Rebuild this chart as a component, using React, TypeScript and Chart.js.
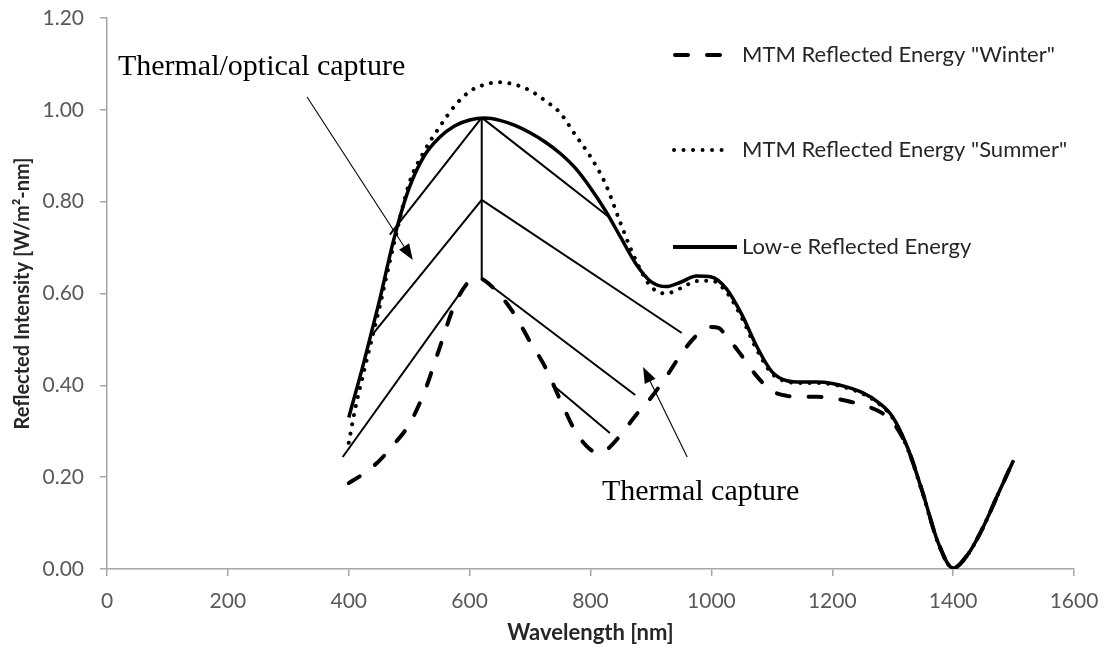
import React, { useEffect, useRef } from 'react';
import { Chart, registerables } from 'chart.js';

Chart.register(...registerables);

// ---- Data ----
const wavelengthsLowE = [400, 425, 450, 475, 500, 525, 550, 575, 600, 625, 650, 675, 700, 725, 750, 775, 800, 825, 850, 875, 900, 925, 950, 975, 1000, 1025, 1050, 1075, 1100, 1125, 1150, 1175, 1200, 1225, 1250, 1275, 1300, 1325, 1350, 1375, 1400, 1425, 1450, 1475, 1500];
const lowE = [0.33, 0.45, 0.58, 0.72, 0.83, 0.9, 0.94, 0.965, 0.978, 0.982, 0.977, 0.966, 0.95, 0.93, 0.905, 0.873, 0.83, 0.78, 0.722, 0.665, 0.626, 0.615, 0.625, 0.638, 0.636, 0.61, 0.555, 0.485, 0.43, 0.41, 0.407, 0.407, 0.404, 0.396, 0.384, 0.364, 0.331, 0.263, 0.165, 0.058, 0.002, 0.033, 0.092, 0.165, 0.237];

const wavelengthsSummer = [400, 410, 425, 450, 475, 500, 525, 550, 575, 600, 625, 650, 675, 700, 725, 750, 775, 800, 825, 850, 875, 900, 925, 950, 975, 1000, 1025, 1050, 1075, 1100, 1125, 1150, 1175, 1200, 1225, 1250, 1275, 1300, 1325, 1350, 1375, 1400, 1425, 1450, 1475, 1500];
const summer = [0.275, 0.345, 0.43, 0.565, 0.71, 0.84, 0.91, 0.962, 1.008, 1.04, 1.055, 1.06, 1.055, 1.042, 1.02, 0.993, 0.945, 0.898, 0.838, 0.752, 0.672, 0.615, 0.6, 0.612, 0.627, 0.628, 0.603, 0.548, 0.478, 0.426, 0.408, 0.405, 0.405, 0.402, 0.394, 0.382, 0.362, 0.329, 0.261, 0.163, 0.057, 0.002, 0.033, 0.092, 0.165];

const wavelengthsWinter = [400, 425, 450, 475, 500, 525, 550, 575, 600, 612, 625, 650, 675, 700, 725, 750, 775, 800, 815, 825, 850, 875, 900, 925, 950, 975, 1000, 1012, 1025, 1050, 1075, 1100, 1125, 1150, 1175, 1200, 1225, 1250, 1275, 1300, 1325, 1350, 1375, 1400, 1425, 1450, 1475, 1500];
const winter = [0.187, 0.208, 0.235, 0.272, 0.315, 0.385, 0.48, 0.575, 0.628, 0.635, 0.628, 0.597, 0.553, 0.495, 0.44, 0.368, 0.3, 0.26, 0.253, 0.258, 0.292, 0.335, 0.373, 0.418, 0.468, 0.508, 0.527, 0.525, 0.507, 0.465, 0.42, 0.388, 0.377, 0.375, 0.375, 0.372, 0.366, 0.357, 0.345, 0.32, 0.262, 0.165, 0.058, 0.002, 0.033, 0.092, 0.165, 0.237];

const seriesLabels = ['MTM Reflected Energy "Winter"', 'MTM Reflected Energy "Summer"', 'Low-e Reflected Energy'];

const xAxisMin = 0;
const xAxisMax = 1600;
const xAxisStep = 200;
const yAxisMin = 0;
const yAxisMax = 1.2;
const yAxisStep = 0.2;
const xTitle = 'Wavelength [nm]';
const yTitle = 'Reflected Intensity [W/m\u00B2-nm]';

// annotation segments in data units: [x1, y1, x2, y2]
const guideLines = [
  [620, 0.983, 620, 0.632],
  [620, 0.983, 468, 0.728],
  [620, 0.983, 832, 0.765],
  [620, 0.804, 440, 0.512],
  [620, 0.804, 951, 0.514],
  [620, 0.632, 874, 0.379],
  [390, 0.244, 592, 0.615],
  [738, 0.4, 832, 0.296],
];
// arrows: [fromX, fromY, tipX, tipY]
const arrows = [
  [331, 1.028, 506, 0.673],
  [960, 0.244, 887, 0.44],
];
// text notes: [label, x, y(baseline)]
const notes: [string, number, number][] = [
  ['Thermal/optical capture', 18, 1.076],
  ['Thermal capture', 819, 0.15],
];

const toPoints = (xs: number[], ys: number[]) => xs.map((x, i) => ({ x, y: ys[i] }));

export default function App() {
  const canvasRef = useRef<HTMLCanvasElement | null>(null);

  useEffect(() => {
    const canvas = canvasRef.current;
    if (!canvas) return;

    const overlay = {
      id: 'overlay',
      afterDatasetsDraw(chart: any) {
        const ctx = chart.ctx as CanvasRenderingContext2D;
        const xs = chart.scales.x;
        const ys = chart.scales.y;
        const px = (v: number) => xs.getPixelForValue(v);
        const py = (v: number) => ys.getPixelForValue(v);
        ctx.save();
        // guide lines
        ctx.strokeStyle = '#000';
        ctx.lineWidth = 2;
        ctx.lineCap = 'butt';
        ctx.setLineDash([]);
        guideLines.forEach(([x1, y1, x2, y2]) => {
          ctx.beginPath();
          ctx.moveTo(px(x1), py(y1));
          ctx.lineTo(px(x2), py(y2));
          ctx.stroke();
        });
        // arrows
        arrows.forEach(([x1, y1, x2, y2]) => {
          const ax = px(x1), ay = py(y1), bx = px(x2), by = py(y2);
          const ang = Math.atan2(by - ay, bx - ax);
          const len = 16, hw = 6;
          const baseX = bx - len * Math.cos(ang);
          const baseY = by - len * Math.sin(ang);
          ctx.lineWidth = 1.1;
          ctx.beginPath();
          ctx.moveTo(ax, ay);
          ctx.lineTo(baseX, baseY);
          ctx.stroke();
          ctx.beginPath();
          ctx.moveTo(bx, by);
          ctx.lineTo(baseX + hw * Math.sin(ang), baseY - hw * Math.cos(ang));
          ctx.lineTo(baseX - hw * Math.sin(ang), baseY + hw * Math.cos(ang));
          ctx.closePath();
          ctx.fillStyle = '#000';
          ctx.fill();
        });
        // notes
        ctx.fillStyle = '#000';
        ctx.font = '30px "Liberation Serif", "Times New Roman", serif';
        ctx.textAlign = 'left';
        ctx.textBaseline = 'alphabetic';
        notes.forEach(([t, x, y]) => ctx.fillText(t, px(x), py(y)));

        // legend
        const lx0 = 673;
        const textX = 742;
        const rows = [55, 150, 247];
        ctx.strokeStyle = '#000';
        ctx.lineWidth = 4;
        // winter dashed
        ctx.lineCap = 'round';
        ctx.setLineDash([13, 19]);
        ctx.beginPath();
        ctx.moveTo(lx0 + 2, rows[0]);
        ctx.lineTo(lx0 + 48, rows[0]);
        ctx.stroke();
        // summer dotted
        ctx.setLineDash([0.01, 9.5]);
        ctx.beginPath();
        ctx.moveTo(lx0 + 1, rows[1]);
        ctx.lineTo(lx0 + 58, rows[1]);
        ctx.stroke();
        // solid
        ctx.setLineDash([]);
        ctx.lineCap = 'butt';
        ctx.beginPath();
        ctx.moveTo(lx0, rows[2]);
        ctx.lineTo(lx0 + 64, rows[2]);
        ctx.stroke();
        ctx.fillStyle = '#262626';
        ctx.font = '22px Lato, "Open Sans", sans-serif';
        ctx.textBaseline = 'middle';
        seriesLabels.forEach((t, i) => ctx.fillText(t, textX, rows[i]));
        ctx.restore();
      },
    };

    const chart = new Chart(canvas, {
      type: 'line',
      data: {
        datasets: [
          {
            label: seriesLabels[0],
            data: toPoints(wavelengthsWinter, winter),
            borderColor: '#000',
            borderWidth: 4,
            borderDash: [13, 19],
            borderCapStyle: 'round',
            pointRadius: 0,
            cubicInterpolationMode: 'monotone',
            fill: false,
          },
          {
            label: seriesLabels[1],
            data: toPoints(wavelengthsSummer, summer),
            borderColor: '#000',
            borderWidth: 4,
            borderDash: [0.01, 9.3],
            borderCapStyle: 'round',
            pointRadius: 0,
            cubicInterpolationMode: 'monotone',
            fill: false,
          },
          {
            label: seriesLabels[2],
            data: toPoints(wavelengthsLowE, lowE),
            borderColor: '#000',
            borderWidth: 3.5,
            pointRadius: 0,
            cubicInterpolationMode: 'monotone',
            fill: false,
          },
        ],
      },
      plugins: [overlay],
      options: {
        responsive: false,
        animation: false,
        devicePixelRatio: 1,
        layout: { padding: { top: 18, right: 30, left: 0, bottom: 0 } },
        plugins: {
          legend: { display: false },
          tooltip: { enabled: false },
        },
        scales: {
          x: {
            type: 'linear',
            min: xAxisMin,
            max: xAxisMax,
            afterFit: (s: any) => {
              s.height = 83;
              s.paddingLeft = 0;
              s.paddingRight = 0;
              s.paddingTop = 0;
              s.paddingBottom = 0;
            },
            ticks: {
              stepSize: xAxisStep,
              color: '#595959',
              font: { family: 'Lato, "Open Sans", sans-serif', size: 21 },
              padding: 13,
              maxRotation: 0,
              callback: (v: any) => String(v),
            },
            grid: {
              display: true,
              drawOnChartArea: false,
              drawTicks: true,
              tickLength: 7,
              color: '#a6a6a6',
              lineWidth: 1.5,
            },
            border: { display: true, color: '#a6a6a6', width: 1.5 },
            title: {
              display: true,
              text: xTitle,
              color: '#262626',
              font: { family: 'Lato, "Open Sans", sans-serif', size: 22, weight: 'bold' },
              padding: { top: 0, bottom: 6 },
            },
          },
          y: {
            type: 'linear',
            min: yAxisMin,
            max: yAxisMax,
            afterFit: (s: any) => {
              s.width = 107;
              s.paddingLeft = 0;
              s.paddingRight = 0;
              s.paddingTop = 0;
              s.paddingBottom = 0;
            },
            ticks: {
              stepSize: yAxisStep,
              color: '#595959',
              font: { family: 'Lato, "Open Sans", sans-serif', size: 21 },
              padding: 16,
              callback: (v: any) => Number(v).toFixed(2),
            },
            grid: {
              display: true,
              drawOnChartArea: false,
              drawTicks: true,
              tickLength: 7,
              color: '#a6a6a6',
              lineWidth: 1.5,
            },
            border: { display: true, color: '#a6a6a6', width: 1.5 },
            title: {
              display: true,
              text: yTitle,
              color: '#262626',
              font: { family: 'Lato, "Open Sans", sans-serif', size: 20, weight: 'bold' },
              padding: { top: 11, bottom: 0 },
            },
          },
        },
      } as any,
    });

    return () => chart.destroy();
  }, []);

  return (
    <div style={{ position: 'fixed', left: 0, top: 0, width: 1104, height: 652, background: '#fff' }}>
      <canvas ref={canvasRef} width={1104} height={652} style={{ display: 'block', width: 1104, height: 652 }} />
    </div>
  );
}
